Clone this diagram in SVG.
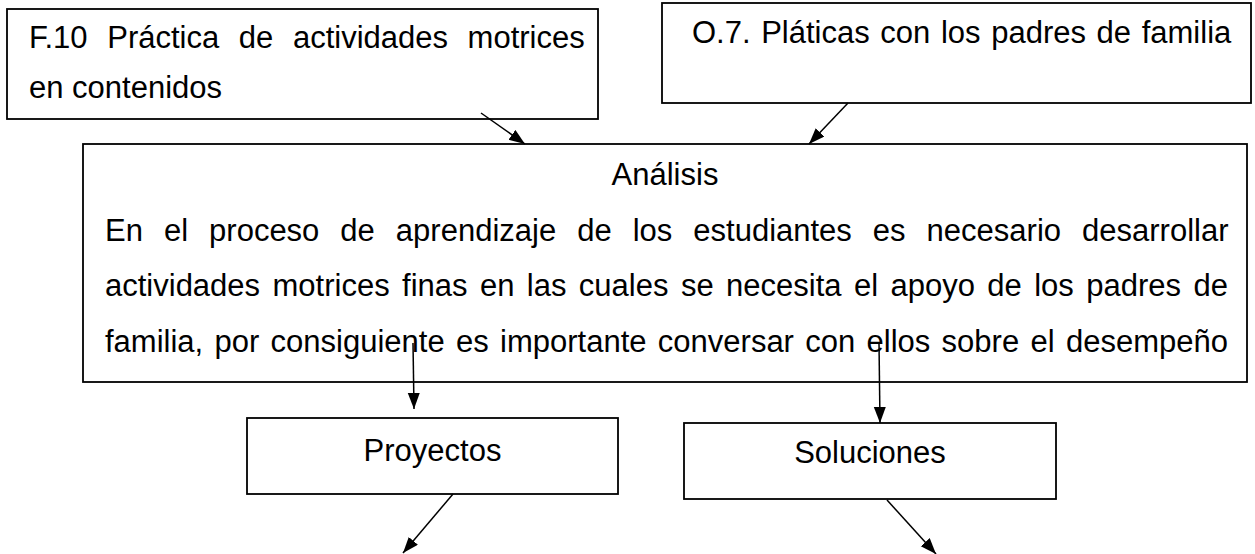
<svg xmlns="http://www.w3.org/2000/svg" width="1255" height="554" viewBox="0 0 1255 554">
<defs>
<style>
.box{fill:#fff;stroke:#000;stroke-width:1.8}
.t{font-family:"Liberation Sans",Arial,sans-serif;font-size:31px;fill:#000}
.c{stroke:#000;stroke-width:1.5;fill:none;marker-end:url(#ah)}
</style>
<marker id="ah" markerUnits="userSpaceOnUse" markerWidth="18" markerHeight="14" refX="16" refY="6" orient="auto">
<path d="M0,0 L16,6 L0,12 z" fill="#000"/>
</marker>
</defs>
<rect width="1255" height="554" fill="#fff"/>
<g id="f10">
<rect class="box" x="7" y="9" width="591" height="110"/>
<text class="t" x="29" y="48" word-spacing="11">F.10 Práctica de actividades motrices</text>
<text class="t" x="29" y="98">en contenidos</text>
</g>
<g id="o7">
<rect class="box" x="662" y="3" width="589" height="100"/>
<text class="t" x="692" y="43" word-spacing="2">O.7. Pláticas con los padres de familia</text>
</g>
<g id="analisis">
<rect class="box" x="83" y="144" width="1164" height="238"/>
<text class="t" x="665" y="185" text-anchor="middle">Análisis</text>
<text class="t" x="105" y="241" word-spacing="12.4">En el proceso de aprendizaje de los estudiantes es necesario desarrollar</text>
<text class="t" x="105" y="296" word-spacing="3.8">actividades motrices finas en las cuales se necesita el apoyo de los padres de</text>
<text class="t" x="105" y="352" word-spacing="2.7">familia, por consiguiente es importante conversar con ellos sobre el desempeño</text>
</g>
<g id="proyectos">
<rect class="box" x="247" y="418" width="371" height="76"/>
<text class="t" x="432.5" y="461" text-anchor="middle">Proyectos</text>
</g>
<g id="soluciones">
<rect class="box" x="684" y="423" width="372" height="76"/>
<text class="t" x="870" y="463" text-anchor="middle">Soluciones</text>
</g>
<g id="connectors">
<line class="c" x1="481" y1="113" x2="525" y2="144"/>
<line class="c" x1="848" y1="103" x2="809" y2="144"/>
<line class="c" x1="413" y1="343" x2="414" y2="409"/>
<line class="c" x1="879" y1="343" x2="880" y2="423"/>
<line class="c" x1="453" y1="494" x2="403" y2="553"/>
<line class="c" x1="887" y1="500" x2="936" y2="554"/>
</g>
</svg>
